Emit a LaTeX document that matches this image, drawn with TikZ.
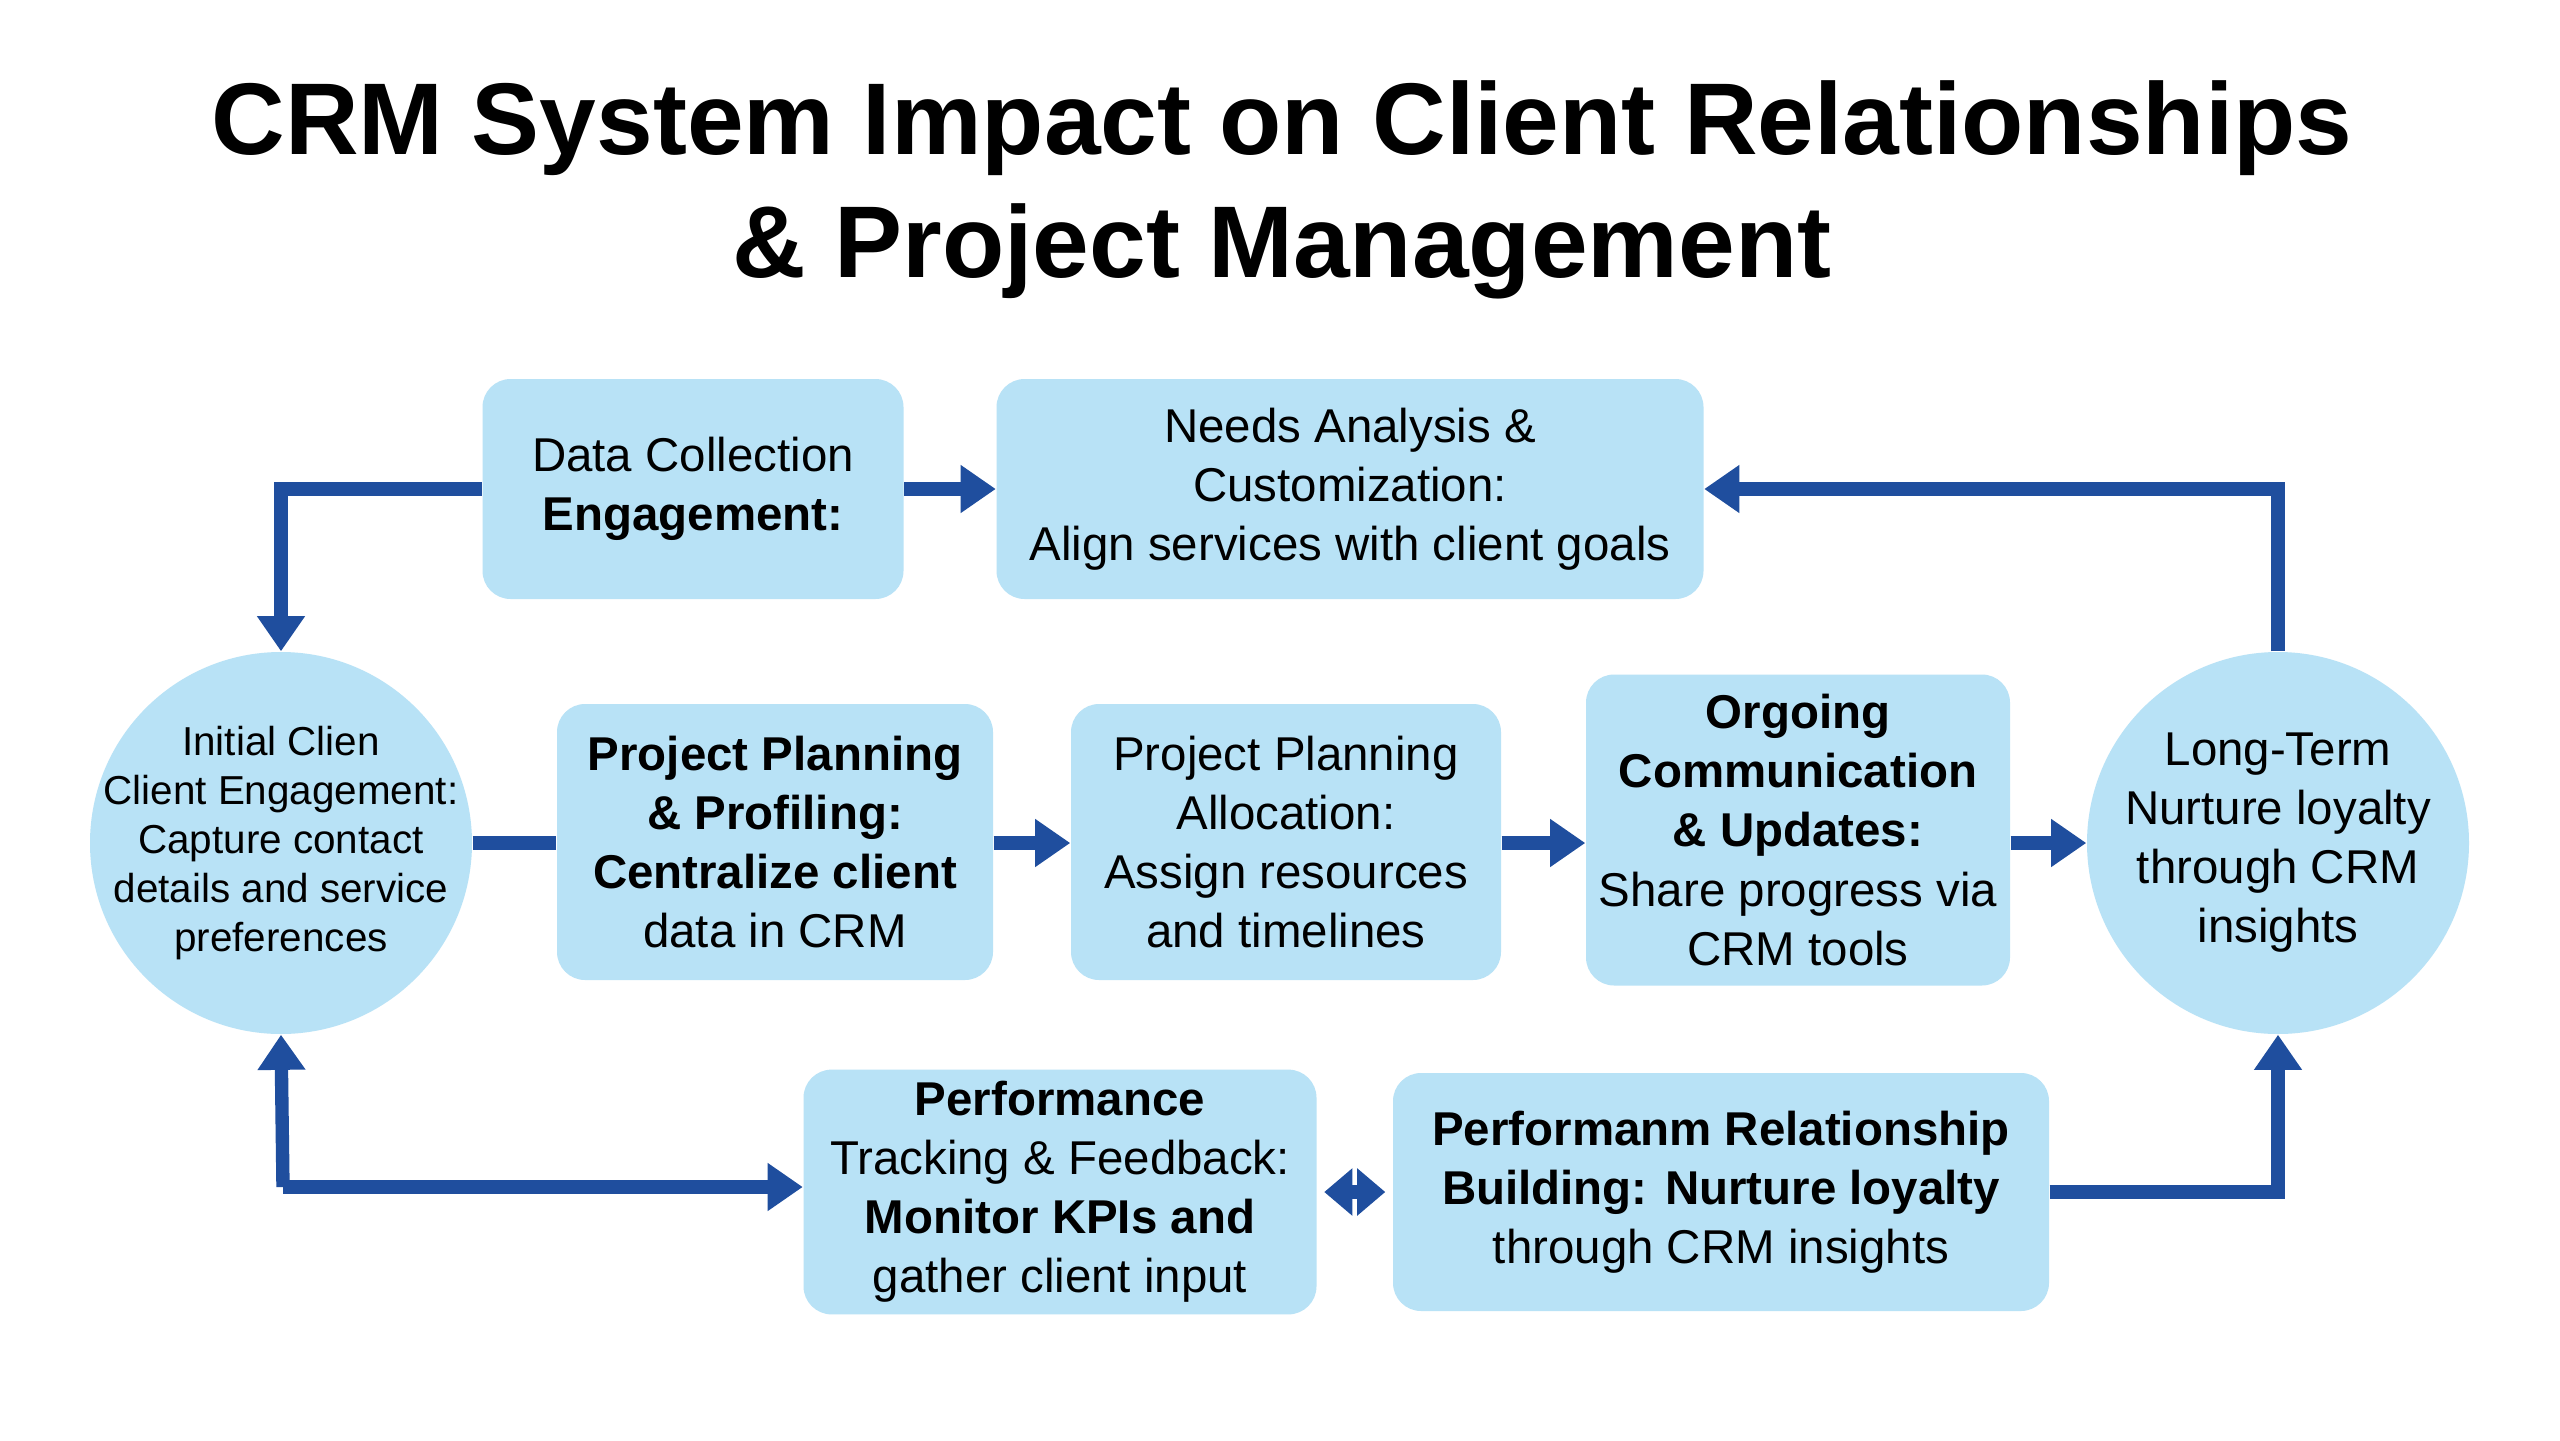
\documentclass[tikz,border=0pt]{standalone}
\usepackage{fontspec}
\setmainfont{Liberation Sans}
\usetikzlibrary{arrows.meta}
\definecolor{boxc}{HTML}{B8E2F6}
\definecolor{arr}{HTML}{1F4E9E}
\begin{document}
\begin{tikzpicture}[yscale=-1,
 box/.style={fill=boxc,rounded corners=8pt,align=center,font=\fontsize{13.5}{16.8}\selectfont},
 circ/.style={circle,fill=boxc,minimum size=3.82cm,align=center,inner sep=-12pt,font=\fontsize{11.5}{14}\selectfont},
 con/.style={draw=arr,line width=3.8pt,-{Triangle[length=10pt,width=13pt]}},
 line/.style={draw=arr,line width=3.8pt}]
\useasboundingbox[fill=white] (0,0) rectangle (25.6,14.4);
\node[font=\bfseries\fontsize{29}{35}\selectfont,align=center] (title) at (12.82,1.9) {CRM System Impact on Client Relationships\\ \& Project Management};
\node[box,minimum width=4.21cm,minimum height=2.2cm] (dc) at (6.93,4.89) {Data Collection\\\textbf{Engagement:}};
\node[box,minimum width=7.07cm,minimum height=2.2cm] (na) at (13.50,4.89) {Needs Analysis \&\\Customization:\\Align services with client goals};
\node[circ] (lc) at (2.81,8.43) {Initial Clien\\Client Engagement:\\Capture contact\\details and service\\preferences};
\node[circ,font=\fontsize{13.5}{16.8}\selectfont] (rc) at (22.78,8.43) {Long-Term\\Nurture loyalty\\through CRM\\insights};
\node[box,minimum width=4.36cm,minimum height=2.76cm] (pp) at (7.75,8.42) {\textbf{Project Planning}\\\textbf{\& Profiling:}\\\textbf{Centralize client}\\data in CRM};
\node[box,minimum width=4.30cm,minimum height=2.76cm] (pa) at (12.86,8.42) {Project Planning\\Allocation:\\Assign resources\\and timelines};
\node[box,minimum width=4.24cm,minimum height=3.11cm] (oc) at (17.98,8.30) {\textbf{Orgoing}\\\textbf{Communication}\\\textbf{\& Updates:}\\Share progress via\\CRM tools};
\node[box,minimum width=5.13cm,minimum height=2.38cm] (pt) at (10.60,11.92) {\textbf{Performance}\\Tracking \& Feedback:\\\textbf{Monitor KPIs and}\\gather client input};
\node[box,minimum width=6.56cm,minimum height=2.38cm] (pr) at (17.21,11.92) {\textbf{Performanm Relationship}\\\textbf{Building: Nurture loyalty}\\through CRM insights};
\path[con] (dc.west) -| (lc.north);
\path[con] (dc.east) -- (na.west);
\path[con] (rc.north) |- (na.east);
\path[line] (lc.east) -- (pp.west|-lc.east);
\path[con] (pp.east|-lc.east) -- (pa.west|-lc.east);
\path[con] (pa.east|-lc.east) -- (oc.west|-lc.east);
\path[con] (oc.east|-lc.east) -- (rc.west);
\coordinate (bl) at (2.83,11.87);
\path[con] (bl) -- (lc.south);
\path[con] (bl) -- (pt.west|-bl);
\path[con,{Triangle[length=8pt,width=13pt]}-{Triangle[length=8pt,width=13pt]},shorten <=2pt,shorten >=2pt] (pt.east) -- (pr.west);
\path[con] (pr.east) -| (rc.south);
\end{tikzpicture}
\end{document}
